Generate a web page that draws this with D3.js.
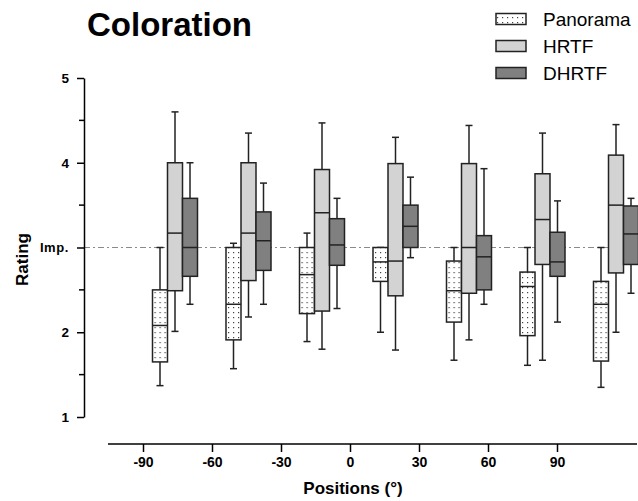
<!DOCTYPE html>
<html>
<head>
<meta charset="utf-8">
<script src="https://cdn.jsdelivr.net/npm/d3@7"></script>
<style>
  html, body { margin: 0; padding: 0; background: #fff; }
  svg { display: block; font-family: "Liberation Sans", Arial, sans-serif; }
</style>
</head>
<body>
<svg id="chart" width="638" height="501"></svg>
<script>
// ---------- data ----------
const positions = [-90, -60, -30, 0, 30, 60, 90];
const xTickLabels = ["-90", "-60", "-30", "0", "30", "60", "90"];
const seriesNames = ["Panorama", "HRTF", "DHRTF"];
const yTickValues = [1, 2, 3, 4, 5];
const yTickLabels = ["1", "2", "Imp.", "4", "5"];
const yMinorTicks = [1.5, 2.5, 3.5, 4.5];
const refLevel = 3;

// each row: [whiskerLow, q1, median, q3, whiskerHigh] per position
const panorama = [
  [1.37, 1.65, 2.08, 2.50, 3.00],
  [1.57, 1.91, 2.33, 3.00, 3.05],
  [1.89, 2.22, 2.68, 3.00, 3.17],
  [2.00, 2.60, 2.83, 3.00, 3.00],
  [1.67, 2.12, 2.49, 2.84, 3.00],
  [1.61, 1.96, 2.54, 2.71, 3.00],
  [1.35, 1.66, 2.33, 2.60, 3.00]
];
const hrtf = [
  [2.01, 2.49, 3.17, 4.00, 4.60],
  [2.18, 2.61, 3.17, 4.00, 4.35],
  [1.80, 2.25, 3.41, 3.92, 4.47],
  [1.79, 2.43, 2.84, 3.99, 4.30],
  [1.91, 2.46, 3.00, 3.99, 4.44],
  [1.67, 2.80, 3.33, 3.87, 4.35],
  [2.00, 2.70, 3.50, 4.09, 4.45]
];
const dhrtf = [
  [2.33, 2.66, 3.00, 3.58, 4.00],
  [2.33, 2.73, 3.08, 3.42, 3.76],
  [2.28, 2.79, 3.03, 3.34, 3.58],
  [2.88, 3.00, 3.25, 3.50, 3.83],
  [2.33, 2.50, 2.89, 3.14, 3.93],
  [2.12, 2.66, 2.83, 3.18, 3.55],
  [2.46, 2.80, 3.16, 3.49, 3.58]
];
const seriesData = [panorama, hrtf, dhrtf];
const seriesFill = ["url(#dots)", "#d3d3d3", "#808080"];

// ---------- setup ----------
const svg = d3.select("#chart");
const W = 638, H = 501;

const defs = svg.append("defs");
const pat = defs.append("pattern")
  .attr("id", "dots").attr("patternUnits", "userSpaceOnUse")
  .attr("width", 5).attr("height", 5);
pat.append("rect").attr("width", 5).attr("height", 5).attr("fill", "#fff");
pat.append("rect").attr("x", 2).attr("y", 2).attr("width", 1.2).attr("height", 1.2).attr("fill", "#444");

const y = d3.scaleLinear().domain([1, 5]).range([417, 78]);
const xTick = d3.scaleLinear().domain([-90, 90]).range([143, 557]);
const xBox = d3.scaleLinear().domain([-90, 90]).range([175, 616]);
const xSub = d3.scaleBand().domain(seriesNames).range([-22.5, 22.5]).padding(0);

// ---------- title ----------
svg.append("text").attr("x", 87).attr("y", 36)
  .attr("font-size", 33).attr("font-weight", "bold").attr("fill", "#000")
  .text("Coloration");

// ---------- reference line ----------
svg.append("line")
  .attr("x1", 84).attr("x2", W).attr("y1", y(refLevel)).attr("y2", y(refLevel))
  .attr("stroke", "#8a8a8a").attr("stroke-width", 1)
  .attr("stroke-dasharray", "6,3,2,3");

// ---------- y axis ----------
const yAxisG = svg.append("g").attr("transform", "translate(84,0)");
yAxisG.call(d3.axisLeft(y).tickValues(yTickValues)
    .tickFormat((d, i) => yTickLabels[i]).tickSize(7).tickPadding(8).tickSizeOuter(0))
  .call(g => g.select(".domain").attr("stroke", "#000").attr("stroke-width", 1.5))
  .call(g => g.selectAll(".tick line").attr("stroke", "#000").attr("stroke-width", 1.5))
  .call(g => g.selectAll(".tick text")
      .style("font-size", "13.5px").style("font-weight", "bold")
      .style("font-family", "'Liberation Sans', Arial, sans-serif").attr("fill", "#000"));
yAxisG.selectAll(".tick text").filter((d) => d === refLevel)
  .style("font-size", "13px").attr("letter-spacing", 0.6);
yAxisG.selectAll(".minor").data(yMinorTicks).enter().append("line")
  .attr("x1", -5).attr("x2", 0).attr("y1", d => y(d)).attr("y2", d => y(d))
  .attr("stroke", "#000").attr("stroke-width", 1.5);

svg.append("text")
  .attr("transform", `translate(28,${(y(1) + y(5)) / 2 + 12}) rotate(-90)`)
  .attr("text-anchor", "middle").attr("font-size", 17).attr("font-weight", "bold")
  .text("Rating");

// ---------- x axis ----------
const xAxisG = svg.append("g").attr("transform", "translate(0,444)");
xAxisG.append("line").attr("x1", 108).attr("x2", 637).attr("y1", 0).attr("y2", 0)
  .attr("stroke", "#000").attr("stroke-width", 1.5);
xAxisG.call(d3.axisBottom(xTick).tickValues(positions)
    .tickFormat((d, i) => xTickLabels[i]).tickSize(8).tickPadding(5).tickSizeOuter(0))
  .call(g => g.select(".domain").remove())
  .call(g => g.selectAll(".tick line").attr("stroke", "#000").attr("stroke-width", 1.5))
  .call(g => g.selectAll(".tick text")
      .style("font-size", "14px").style("font-weight", "bold")
      .style("font-family", "'Liberation Sans', Arial, sans-serif").attr("fill", "#000"));

svg.append("text").attr("x", 353).attr("y", 494)
  .attr("text-anchor", "middle").attr("font-size", 17).attr("font-weight", "bold")
  .text("Positions (°)");

// ---------- boxes ----------
const bw = xSub.bandwidth();
const capW = 7;
seriesNames.forEach((name, si) => {
  const g = svg.append("g").attr("class", "series-" + name);
  const items = seriesData[si].map((v, i) => ({ pos: positions[i], v }));
  const grp = g.selectAll("g.box").data(items).enter().append("g").attr("class", "box")
    .attr("transform", d => `translate(${xBox(d.pos) + xSub(name)},0)`);
  // whiskers
  grp.append("line").attr("x1", bw / 2).attr("x2", bw / 2)
    .attr("y1", d => y(d.v[3])).attr("y2", d => y(d.v[4]))
    .attr("stroke", "#222").attr("stroke-width", 1.5);
  grp.append("line").attr("x1", bw / 2).attr("x2", bw / 2)
    .attr("y1", d => y(d.v[1])).attr("y2", d => y(d.v[0]))
    .attr("stroke", "#222").attr("stroke-width", 1.5);
  grp.append("line").attr("x1", bw / 2 - capW / 2).attr("x2", bw / 2 + capW / 2)
    .attr("y1", d => y(d.v[4])).attr("y2", d => y(d.v[4]))
    .attr("stroke", "#222").attr("stroke-width", 1.5);
  grp.append("line").attr("x1", bw / 2 - capW / 2).attr("x2", bw / 2 + capW / 2)
    .attr("y1", d => y(d.v[0])).attr("y2", d => y(d.v[0]))
    .attr("stroke", "#222").attr("stroke-width", 1.5);
  // box
  grp.append("rect").attr("x", 0).attr("width", bw)
    .attr("y", d => y(d.v[3])).attr("height", d => y(d.v[1]) - y(d.v[3]))
    .attr("fill", seriesFill[si]).attr("stroke", "#222").attr("stroke-width", 1.5);
  // median
  grp.append("line").attr("x1", 0).attr("x2", bw)
    .attr("y1", d => y(d.v[2])).attr("y2", d => y(d.v[2]))
    .attr("stroke", "#222").attr("stroke-width", 1.5);
});

// ---------- legend ----------
const legend = svg.append("g").attr("class", "legend");
const legendY = d3.scalePoint().domain(seriesNames).range([19, 73]);
seriesNames.forEach((name, si) => {
  const cy = legendY(name);
  legend.append("rect").attr("x", 496).attr("y", cy - 5.5).attr("width", 30).attr("height", 11)
    .attr("fill", seriesFill[si]).attr("stroke", "#222").attr("stroke-width", 1.5);
  legend.append("text").attr("x", 543).attr("y", cy + 7)
    .attr("font-size", 19).attr("fill", "#000").text(name);
});
</script>
</body>
</html>
